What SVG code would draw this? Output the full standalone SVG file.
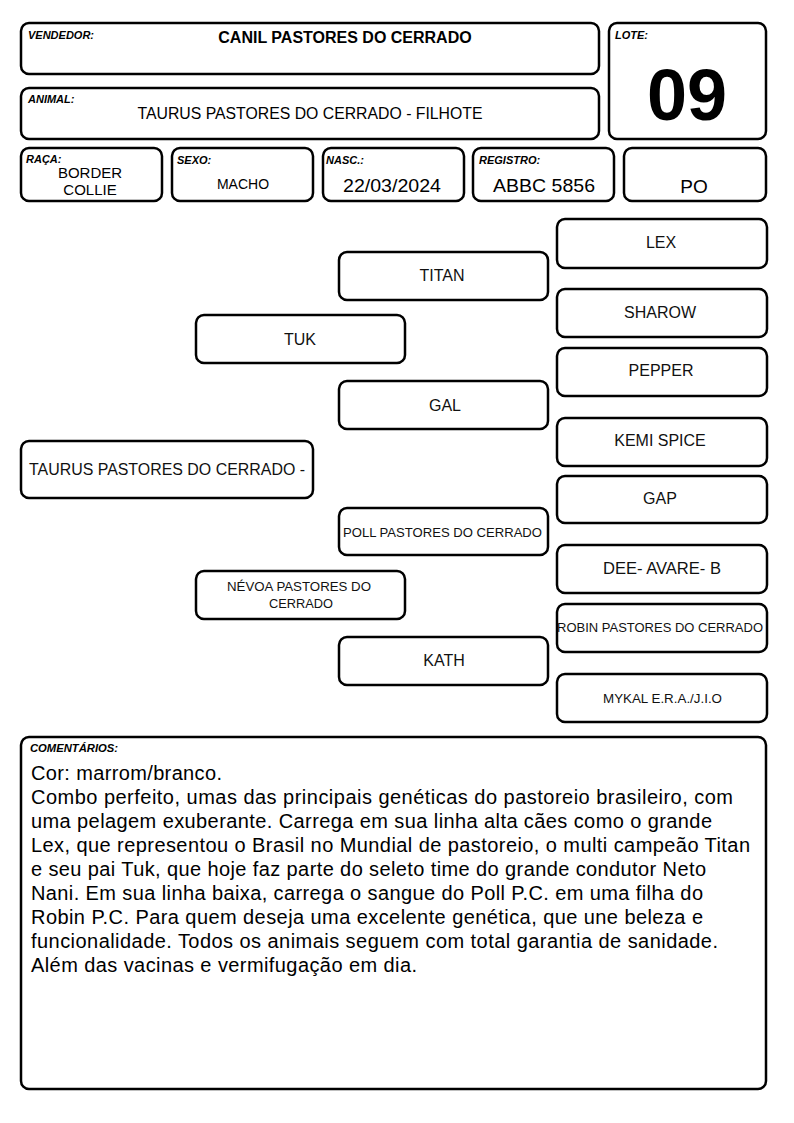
<svg xmlns="http://www.w3.org/2000/svg" width="794" height="1123" viewBox="0 0 794 1123">
<style>
.b{fill:#fff;stroke:#000;stroke-width:2.5}
.l{font-family:"Liberation Sans",Arial,sans-serif;font-size:11px;font-weight:bold;font-style:italic;fill:#000}
.t{font-family:"Liberation Sans",Arial,sans-serif;fill:#000;text-anchor:middle}
.p{font-family:"Liberation Sans",Arial,sans-serif;fill:#111;text-anchor:middle;font-size:16px}
.s{font-size:13px}
.c{font-family:"Liberation Sans",Arial,sans-serif;fill:#000;font-size:20px}
</style>
<rect width="794" height="1123" fill="#fff"/>
<g id="vendedor"><rect class="b" x="21" y="23" width="578" height="51" rx="8"/><text class="l" x="28" y="39">VENDEDOR:</text><text class="t" x="345" y="43" font-size="16" font-weight="bold">CANIL PASTORES DO CERRADO</text></g>
<g id="animal"><rect class="b" x="21" y="88" width="578" height="51" rx="8"/><text class="l" x="28" y="103">ANIMAL:</text><text class="t" x="310" y="119" font-size="16" textLength="345" lengthAdjust="spacingAndGlyphs">TAURUS PASTORES DO CERRADO - FILHOTE</text></g>
<g id="lote"><rect class="b" x="609" y="23" width="157" height="116" rx="8"/><text class="l" x="615" y="39">LOTE:</text><text class="t" x="687" y="120" font-size="72" font-weight="bold">09</text></g>
<g id="raca"><rect class="b" x="21" y="148" width="141" height="53" rx="8"/><text class="l" x="26" y="163">RAÇA:</text><text class="t" x="90" y="178" font-size="15">BORDER</text><text class="t" x="90" y="195" font-size="15">COLLIE</text></g>
<g id="sexo"><rect class="b" x="172" y="148" width="141" height="53" rx="8"/><text class="l" x="177" y="164">SEXO:</text><text class="t" x="243" y="189" font-size="14">MACHO</text></g>
<g id="nasc"><rect class="b" x="323" y="148" width="141" height="53" rx="8"/><text class="l" x="326" y="164">NASC.:</text><text class="t" x="392" y="192" font-size="18.5" textLength="98" lengthAdjust="spacingAndGlyphs">22/03/2024</text></g>
<g id="registro"><rect class="b" x="473" y="148" width="141" height="53" rx="8"/><text class="l" x="479" y="164">REGISTRO:</text><text class="t" x="544" y="192" font-size="18.5" textLength="102" lengthAdjust="spacingAndGlyphs">ABBC 5856</text></g>
<g id="po"><rect class="b" x="624" y="148" width="142" height="53" rx="8"/><text class="t" x="694" y="193" font-size="19">PO</text></g>
<g id="lex"><rect class="b" x="557" y="219" width="210" height="49" rx="8"/><text class="p" x="661" y="248">LEX</text></g>
<g id="titan"><rect class="b" x="339" y="252" width="209" height="48" rx="8"/><text class="p" x="442" y="281">TITAN</text></g>
<g id="sharow"><rect class="b" x="557" y="289" width="210" height="48" rx="8"/><text class="p" x="660" y="318">SHAROW</text></g>
<g id="tuk"><rect class="b" x="196" y="315" width="209" height="48" rx="8"/><text class="p" x="300" y="345">TUK</text></g>
<g id="pepper"><rect class="b" x="557" y="348" width="210" height="48" rx="8"/><text class="p" x="661" y="376">PEPPER</text></g>
<g id="gal"><rect class="b" x="339" y="381" width="209" height="48" rx="8"/><text class="p" x="445" y="411">GAL</text></g>
<g id="kemi"><rect class="b" x="557" y="418" width="210" height="48" rx="8"/><text class="p" x="660" y="446">KEMI SPICE</text></g>
<g id="taurus"><rect class="b" x="21" y="441" width="292" height="57" rx="8"/><text class="p" x="167" y="475" textLength="276" lengthAdjust="spacingAndGlyphs">TAURUS PASTORES DO CERRADO -</text></g>
<g id="gap"><rect class="b" x="557" y="476" width="210" height="47" rx="8"/><text class="p" x="660" y="504">GAP</text></g>
<g id="poll"><rect class="b" x="339" y="508" width="209" height="47" rx="8"/><text class="p s" x="442.5" y="537" textLength="199" lengthAdjust="spacingAndGlyphs">POLL PASTORES DO CERRADO</text></g>
<g id="dee"><rect class="b" x="557" y="545" width="210" height="48" rx="8"/><text class="p" x="662" y="574" textLength="118" lengthAdjust="spacingAndGlyphs">DEE- AVARE- B</text></g>
<g id="nevoa"><rect class="b" x="196" y="571" width="209" height="48" rx="8"/><text class="p s" x="299" y="591" textLength="144" lengthAdjust="spacingAndGlyphs">NÉVOA PASTORES DO</text><text class="p s" x="301" y="608" textLength="64" lengthAdjust="spacingAndGlyphs">CERRADO</text></g>
<g id="robin"><rect class="b" x="557" y="604" width="210" height="48" rx="8"/><text class="p s" x="660" y="632" textLength="206" lengthAdjust="spacingAndGlyphs">ROBIN PASTORES DO CERRADO</text></g>
<g id="kath"><rect class="b" x="339" y="637" width="209" height="48" rx="8"/><text class="p" x="444" y="666">KATH</text></g>
<g id="mykal"><rect class="b" x="557" y="674" width="210" height="48" rx="8"/><text class="p s" x="662.5" y="703" textLength="119" lengthAdjust="spacingAndGlyphs">MYKAL E.R.A./J.I.O</text></g>
<g id="comentarios"><rect class="b" x="21" y="737" width="745" height="352" rx="8"/><text class="l" x="30" y="752" textLength="88" lengthAdjust="spacingAndGlyphs">COMENTÁRIOS:</text>
<text class="c" x="31" y="780" textLength="191">Cor: marrom/branco.</text>
<text class="c" x="31" y="804" textLength="702">Combo perfeito, umas das principais genéticas do pastoreio brasileiro, com</text>
<text class="c" x="31" y="828" textLength="681">uma pelagem exuberante. Carrega em sua linha alta cães como o grande</text>
<text class="c" x="31" y="852" textLength="719">Lex, que representou o Brasil no Mundial de pastoreio, o multi campeão Titan</text>
<text class="c" x="31" y="876" textLength="675">e seu pai Tuk, que hoje faz parte do seleto time do grande condutor Neto</text>
<text class="c" x="31" y="900" textLength="672">Nani. Em sua linha baixa, carrega o sangue do Poll P.C. em uma filha do</text>
<text class="c" x="31" y="924" textLength="672">Robin P.C. Para quem deseja uma excelente genética, que une beleza e</text>
<text class="c" x="31" y="948" textLength="687">funcionalidade. Todos os animais seguem com total garantia de sanidade.</text>
<text class="c" x="31" y="972" textLength="386">Além das vacinas e vermifugação em dia.</text>
</g>
<g id="connectors"></g>
</svg>
